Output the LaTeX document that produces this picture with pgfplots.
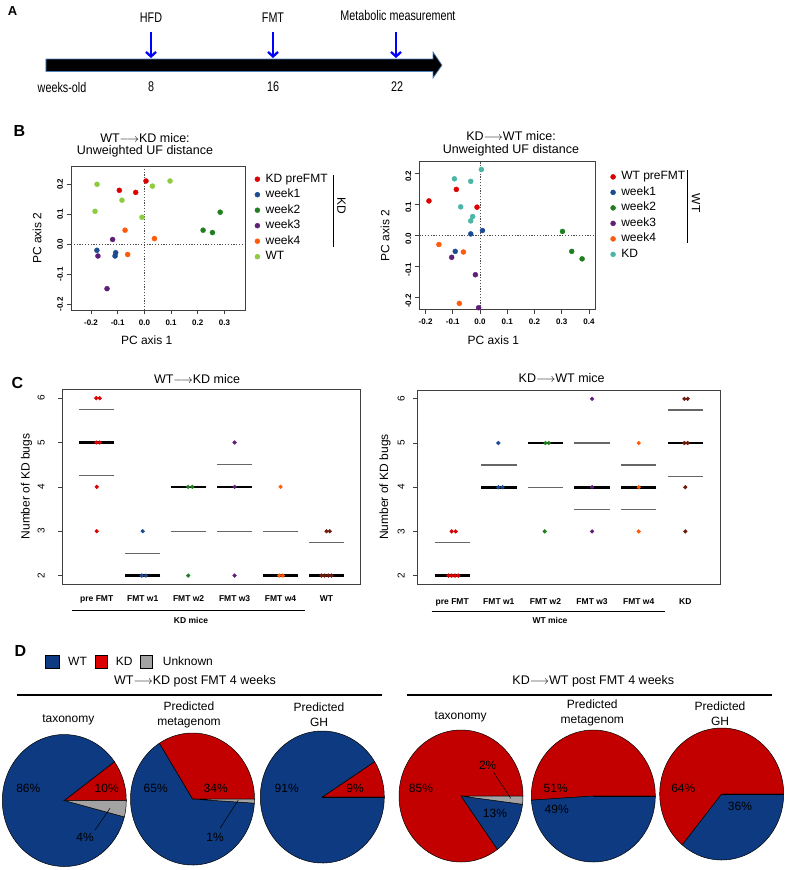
\documentclass[border=0pt]{standalone}
\usepackage{pgfplots}
\pgfplotsset{compat=1.18}
\usepackage{fontspec}
\setmainfont{Liberation Sans}
\usetikzlibrary{arrows.meta}

\definecolor{cRed}{HTML}{DD0000}
\definecolor{cBlue}{HTML}{1B4B91}
\definecolor{cGreen}{HTML}{1F7F1F}
\definecolor{cPurple}{HTML}{5E1F78}
\definecolor{cOrange}{HTML}{FF5A0A}
\definecolor{cLGreen}{HTML}{8DCB3F}
\definecolor{cTeal}{HTML}{4DB5A6}
\definecolor{cBrown}{HTML}{6E1B0C}
\definecolor{pBlue}{HTML}{0D3A80}
\definecolor{pRed}{HTML}{C30000}
\definecolor{pGray}{HTML}{A3A3A3}
\definecolor{steel}{HTML}{4F81BD}

\newcommand{\fs}[2]{\fontsize{#1}{#2}\selectfont}
\newcommand{\arr}{\ensuremath{\longrightarrow}}
\newcommand{\An}[1]{\scalebox{0.77}[1]{#1}}

% pie: center x, center y (pixel coords), KD %, WT %, Unknown %
\newcommand{\piechart}[5]{%
  \filldraw[fill=pRed,draw=black,line width=0.5pt] (axis cs:#1,#2) -- ++(canvas polar cs:angle=0,x radius=62pt,y radius=66pt)
     arc[start angle=0,end angle={3.6*(#3)},x radius=62pt,y radius=66pt] -- cycle;
  \filldraw[fill=pBlue,draw=black,line width=0.5pt] (axis cs:#1,#2) -- ++(canvas polar cs:angle={3.6*(#3)},x radius=62pt,y radius=66pt)
     arc[start angle={3.6*(#3)},end angle={3.6*(#3+#4)},x radius=62pt,y radius=66pt] -- cycle;
  \filldraw[fill=pGray,draw=black,line width=0.5pt] (axis cs:#1,#2) -- ++(canvas polar cs:angle={3.6*(#3+#4)},x radius=62pt,y radius=66pt)
     arc[start angle={3.6*(#3+#4)},end angle={3.6*(#3+#4+#5)},x radius=62pt,y radius=66pt] -- cycle;
}

\pgfplotsset{
  rstyle/.style={scale only axis, anchor=south west,
    axis line style={black!75, line width=0.7pt},
    tick pos=left, tick align=outside, major tick length=4.5pt,
    tick style={black!75, line width=0.7pt},
    /pgf/number format/assume math mode=true,
    label style={font=\fs{12}{14}},
  },
  pcstyle/.style={rstyle,
    xticklabel style={font=\bfseries\fs{8}{9}, /pgf/number format/fixed, /pgf/number format/fixed zerofill, /pgf/number format/precision=1, yshift=-2pt},
    yticklabel style={font=\bfseries\fs{8}{9}, /pgf/number format/fixed, /pgf/number format/fixed zerofill, /pgf/number format/precision=1, rotate=90, anchor=south},
    ytick={-0.2,-0.1,0,0.1,0.2},
    xlabel={PC axis 1}, ylabel={PC axis 2},
    legend cell align=left,
    legend image code/.code={\draw[#1] plot coordinates {(0pt,0pt)}; \path (-2.5pt,0pt) (8pt,0pt);},
    legend style={draw=none, fill=none, inner sep=0pt, font=\fs{12}{14}, row sep=3.5pt,
       nodes={inner xsep=0pt, inner ysep=0pt, text height=9pt, text depth=3pt}},
  },
  cstyle/.style={rstyle,
    xtick={1,...,6}, major x tick style={draw=none},
    ytick={2,...,6},
    xmin=0.26, xmax=6.744, ymin=1.81, ymax=6.2,
    xticklabel style={font=\bfseries\fs{8.5}{10}},
    ylabel={Number of KD bugs},
  },
  dots/.style={only marks, mark=*, mark size=2.5pt},
  cdots/.style={only marks, mark=*, mark size=1.9pt},
  qline/.style={only marks, mark=-, mark size=17.7pt, mark options={line width=1.3pt, draw=black!60}},
  mline/.style={only marks, mark=-, mark size=17.7pt, mark options={line width=2.6pt, draw=black}},
  zline/.style={black!70, line width=0.8pt, dash pattern=on 1.2pt off 1.6pt, forget plot},
}

\begin{document}
\begin{tikzpicture}[x=1pt,y=1pt]
\useasboundingbox (0,0) rectangle (787,870);

% ---------------- B left ----------------
\begin{axis}[pcstyle, at={(71pt,560pt)}, width=174pt, height=144pt,
  xmin=-0.275, xmax=0.377, ymin=-0.219, ymax=0.261,
  xtick={-0.2,-0.1,0,0.1,0.2,0.3},
  xlabel style={at={(axis description cs:0.435,-0.208)}, anchor=center},
  ylabel style={at={(axis description cs:-0.195,0.5)}, anchor=center},
  legend style={at={(axis description cs:1,1)}, anchor=north west, xshift=9.5pt, yshift=-7pt}]
\addplot[zline] coordinates {(0,-0.219) (0,0.261)};
\addplot[zline] coordinates {(-0.275,0) (0.377,0)};
\addplot[dots, cRed] coordinates {(-0.094,0.180) (-0.0325,0.173) (0.006,0.211)};
\addlegendentry{KD preFMT}
\addplot[dots, cBlue] coordinates {(-0.178,-0.020) (-0.1075,-0.028) (-0.110,-0.039)};
\addlegendentry{week1}
\addplot[dots, cGreen] coordinates {(0.220,0.047) (0.255,0.039) (0.284,0.107)};
\addlegendentry{week2}
\addplot[dots, cPurple] coordinates {(-0.119,0.016) (-0.174,-0.039) (-0.140,-0.148)};
\addlegendentry{week3}
\addplot[dots, cOrange] coordinates {(-0.0725,0.047) (0.0375,0.019) (-0.0625,-0.034)};
\addlegendentry{week4}
\addplot[dots, cLGreen] coordinates {(-0.1775,0.200) (-0.185,0.110) (-0.084,0.147) (-0.009,0.090) (0.030,0.194) (0.096,0.211)};
\addlegendentry{WT}
\end{axis}

% ---------------- B right ----------------
\begin{axis}[pcstyle, at={(419.3pt,560.7pt)}, width=176.4pt, height=147.6pt,
  xmin=-0.223, xmax=0.425, ymin=-0.237, ymax=0.237,
  xtick={-0.2,-0.1,0,0.1,0.2,0.3,0.4},
  yticklabel style={xshift=-3pt},
  xlabel style={at={(axis description cs:0.42,-0.208)}, anchor=center},
  ylabel style={at={(axis description cs:-0.194,0.5)}, anchor=center},
  legend style={at={(axis description cs:1,1)}, anchor=north west, xshift=14.5pt, yshift=-9pt}]
\addplot[zline] coordinates {(0,-0.237) (0,0.237)};
\addplot[zline] coordinates {(-0.223,0) (0.425,0)};
\addplot[dots, cRed] coordinates {(-0.1875,0.111) (-0.087,0.148) (-0.011,0.091)};
\addlegendentry{WT preFMT}
\addplot[dots, cBlue] coordinates {(-0.034,0.005) (0.009,0.016) (-0.091,-0.051)};
\addlegendentry{week1}
\addplot[dots, cGreen] coordinates {(0.303,0.013) (0.337,-0.051) (0.375,-0.075)};
\addlegendentry{week2}
\addplot[dots, cPurple] coordinates {(-0.104,-0.070) (-0.017,-0.126) (-0.005,-0.232)};
\addlegendentry{week3}
\addplot[dots, cOrange] coordinates {(-0.151,-0.029) (-0.061,-0.053) (-0.076,-0.218)};
\addlegendentry{week4}
\addplot[dots, cTeal] coordinates {(0.005,0.212) (-0.094,0.182) (-0.034,0.174) (-0.071,0.092) (-0.027,0.061) (-0.034,0.047)};
\addlegendentry{KD}
\end{axis}

% ---------------- C left ----------------
\begin{axis}[cstyle, at={(62.7pt,286pt)}, width=298pt, height=194.7pt,
  xticklabels={pre FMT,FMT w1,FMT w2,FMT w3,FMT w4,WT},
  xticklabel style={yshift=-4pt},
  yticklabel style={font=\fs{10}{12}, xshift=-10pt, rotate=90, anchor=south},
  ylabel style={at={(axis description cs:-0.121,0.5)}, anchor=center}]
\addplot[qline] coordinates {(1,4.25) (1,5.75) (2,2) (2,2.5) (3,3) (3,4) (4,3) (4,4.5) (5,2) (5,3) (6,2) (6,2.75)};
\addplot[mline] coordinates {(1,5) (2,2) (3,4) (4,4) (5,2) (6,2)};
\addplot[cdots, cRed] coordinates {(0.99,6) (1.065,6) (0.99,5) (1.065,5) (1.0,4) (1.0,3)};
\addplot[cdots, cBlue] coordinates {(2.0,3) (1.98,2) (2.07,2)};
\addplot[cdots, cGreen] coordinates {(2.99,4) (3.08,4) (2.99,2)};
\addplot[cdots, cPurple] coordinates {(4.0,5) (4.0,4) (4.0,2)};
\addplot[cdots, cOrange] coordinates {(5.0,4) (4.97,2) (5.05,2)};
\addplot[cdots, cBrown] coordinates {(6.0,3) (6.07,3) (5.89,2) (5.96,2) (6.04,2) (6.11,2)};
\end{axis}

% ---------------- C right ----------------
\begin{axis}[cstyle, at={(417.7pt,286pt)}, width=302.3pt, height=194pt,
  xticklabels={pre FMT,FMT w1,FMT w2,FMT w3,FMT w4,KD},
  xticklabel style={yshift=-7pt},
  yticklabel style={font=\fs{10}{12}, xshift=-5pt, rotate=90, anchor=south},
  ylabel style={at={(axis description cs:-0.108,0.5)}, anchor=center}]
\addplot[qline] coordinates {(1,2) (1,2.75) (2,4) (2,4.5) (3,4) (3,5) (4,3.5) (4,5) (5,3.5) (5,4.5) (6,4.25) (6,5.75)};
\addplot[mline] coordinates {(1,2) (2,4) (3,5) (4,4) (5,4) (6,5)};
\addplot[cdots, cRed] coordinates {(0.99,3) (1.075,3) (0.92,2) (0.99,2) (1.06,2) (1.13,2)};
\addplot[cdots, cBlue] coordinates {(1.99,5) (1.99,4) (2.08,4)};
\addplot[cdots, cGreen] coordinates {(3.0,5) (3.07,5) (2.985,3)};
\addplot[cdots, cPurple] coordinates {(4.0,6) (4.0,4) (4.0,3)};
\addplot[cdots, cOrange] coordinates {(5.0,5) (5.0,4) (5.0,3)};
\addplot[cdots, cBrown] coordinates {(5.98,6) (6.05,6) (5.98,5) (6.05,5) (6.0,4) (6.0,3)};
\end{axis}

% ---------------- overlay (pixel coordinates) ----------------
\begin{axis}[at={(0pt,0pt)}, anchor=south west, scale only axis, width=787pt, height=870pt,
  xmin=0, xmax=787, ymin=0, ymax=870, y dir=reverse, hide axis, clip=false, enlargelimits=false]
% panel letters
\node[font=\bfseries\fs{13}{15}] at (axis cs:12.5,11) {A};
\node[font=\bfseries\fs{16}{18}] at (axis cs:19.5,131) {B};
\node[font=\bfseries\fs{16}{18}] at (axis cs:17.5,382.7) {C};
\node[font=\bfseries\fs{16}{18}] at (axis cs:20.5,651) {D};

% panel A
\filldraw[fill=black, draw=steel, line width=0.7pt] (axis cs:46,59) -- (axis cs:433,59) -- (axis cs:433,52) -- (axis cs:442,65.2) -- (axis cs:433,78) -- (axis cs:433,71.5) -- (axis cs:46,71.5) -- cycle;
\draw[blue, line width=2.3pt, -{Straight Barb[length=4.5pt,width=10pt]}] (axis cs:151,32) -- (axis cs:151,58);
\draw[blue, line width=2.3pt, -{Straight Barb[length=4.5pt,width=10pt]}] (axis cs:273,32) -- (axis cs:273,58);
\draw[blue, line width=2.3pt, -{Straight Barb[length=4.5pt,width=10pt]}] (axis cs:396,32) -- (axis cs:396,58);
\node[font=\fs{14}{16}] at (axis cs:151,18) {\An{HFD}};
\node[font=\fs{14}{16}] at (axis cs:273,18) {\An{FMT}};
\node[font=\fs{14}{16}] at (axis cs:398,15) {\An{Metabolic measurement}};
\node[font=\fs{14}{16}] at (axis cs:62,87) {\An{weeks-old}};
\node[font=\fs{14}{16}] at (axis cs:151,87) {\An{8}};
\node[font=\fs{14}{16}] at (axis cs:273,87) {\An{16}};
\node[font=\fs{14}{16}] at (axis cs:397,87) {\An{22}};

% panel B titles and brackets
\node[font=\fs{12.5}{15}] at (axis cs:145,138) {WT\arr KD mice:};
\node[font=\fs{12.5}{15}] at (axis cs:145,151) {Unweighted UF distance};
\node[font=\fs{12.5}{15}] at (axis cs:511,136) {KD\arr WT mice:};
\node[font=\fs{12.5}{15}] at (axis cs:511,150) {Unweighted UF distance};
\draw[black, line width=0.8pt] (axis cs:333,175) -- (axis cs:333,247);
\node[font=\fs{12}{14}, rotate=-90] at (axis cs:341.5,206) {KD};
\draw[black, line width=0.8pt] (axis cs:687.7,170) -- (axis cs:687.7,243);
\node[font=\fs{12}{14}, rotate=-90] at (axis cs:696,203) {WT};

% panel C titles and group lines
\node[font=\fs{12.5}{15}] at (axis cs:197,379) {WT\arr KD mice};
\node[font=\fs{12.5}{15}] at (axis cs:561.7,378.3) {KD\arr WT mice};
\draw[black, line width=0.7pt] (axis cs:71.7,610) -- (axis cs:305,610);
\node[font=\bfseries\fs{8.5}{10}] at (axis cs:191,620.7) {KD mice};
\draw[black, line width=0.7pt] (axis cs:431.7,611.7) -- (axis cs:665,611.7);
\node[font=\bfseries\fs{8.5}{10}] at (axis cs:550,620.7) {WT mice};

% panel D legend
\filldraw[fill=pBlue, draw=black, line width=0.5pt] (axis cs:45.7,655) rectangle (axis cs:59,668.3);
\node[font=\fs{12}{14}, anchor=west, inner sep=0pt] at (axis cs:68,661.7) {WT};
\filldraw[fill=cRed, draw=black, line width=0.5pt] (axis cs:95,655) rectangle (axis cs:107.3,668.3);
\node[font=\fs{12}{14}, anchor=west, inner sep=0pt] at (axis cs:115.7,661.7) {KD};
\filldraw[fill=pGray, draw=black, line width=0.5pt] (axis cs:140,655) rectangle (axis cs:152.7,668.3);
\node[font=\fs{12}{14}, anchor=west, inner sep=0pt] at (axis cs:162.7,661.7) {Unknown};

% panel D headers
\node[font=\fs{12.5}{15}] at (axis cs:195,681.7) {WT\arr KD post FMT 4 weeks};
\draw[black, line width=2.4pt] (axis cs:16.7,695) -- (axis cs:381.7,695);
\node[font=\fs{12.5}{15}] at (axis cs:593.3,681.7) {KD\arr WT post FMT 4 weeks};
\draw[black, line width=2.4pt] (axis cs:406.7,695) -- (axis cs:771.7,695);

% pie titles
\node[font=\fs{12}{15}] at (axis cs:68.3,720) {taxonomy};
\node[font=\fs{12}{15}, align=center] at (axis cs:189,714.8) {Predicted\\metagenom};
\node[font=\fs{12}{15}, align=center] at (axis cs:319,714.8) {Predicted\\GH};
\node[font=\fs{12}{15}] at (axis cs:460.7,716.7) {taxonomy};
\node[font=\fs{12}{15}, align=center] at (axis cs:592.3,712.5) {Predicted\\metagenom};
\node[font=\fs{12}{15}, align=center] at (axis cs:720,713.3) {Predicted\\GH};

% pies: KD, WT, Unknown (percent)
\piechart{64.3}{800.5}{10}{86}{4}
\piechart{192.5}{799}{34}{65}{1}
\piechart{322.3}{797}{9}{91}{0}
\piechart{461}{796}{85}{13}{2}
\piechart{593.3}{796}{51}{49}{0}
\piechart{721.7}{794}{64}{36}{0}

% pie labels
\node[font=\fs{12}{14}] at (axis cs:28.3,788.3) {86\%};
\node[font=\fs{12}{14}] at (axis cs:106.7,788.3) {10\%};
\node[font=\fs{12}{14}] at (axis cs:85,837.3) {4\%};
\draw[black, line width=0.5pt] (axis cs:95,830) -- (axis cs:110,808.3);
\node[font=\fs{12}{14}] at (axis cs:155.7,788.3) {65\%};
\node[font=\fs{12}{14}] at (axis cs:215.7,788.3) {34\%};
\node[font=\fs{12}{14}] at (axis cs:215,837.3) {1\%};
\draw[black, line width=0.5pt] (axis cs:220,828.3) -- (axis cs:238.3,800);
\node[font=\fs{12}{14}] at (axis cs:286.7,788.3) {91\%};
\node[font=\fs{12}{14}] at (axis cs:355,788.3) {9\%};
\node[font=\fs{12}{14}] at (axis cs:421,788.3) {85\%};
\node[font=\fs{12}{14}] at (axis cs:495,813.3) {13\%};
\node[font=\fs{12}{14}] at (axis cs:487.7,765.7) {2\%};
\draw[black, line width=0.5pt] (axis cs:493.3,771.7) -- (axis cs:510.7,798.3);
\node[font=\fs{12}{14}] at (axis cs:555.7,788.3) {51\%};
\node[font=\fs{12}{14}] at (axis cs:556.7,809.3) {49\%};
\node[font=\fs{12}{14}] at (axis cs:683.3,788.3) {64\%};
\node[font=\fs{12}{14}] at (axis cs:740,806.7) {36\%};
\end{axis}
\end{tikzpicture}
\end{document}
